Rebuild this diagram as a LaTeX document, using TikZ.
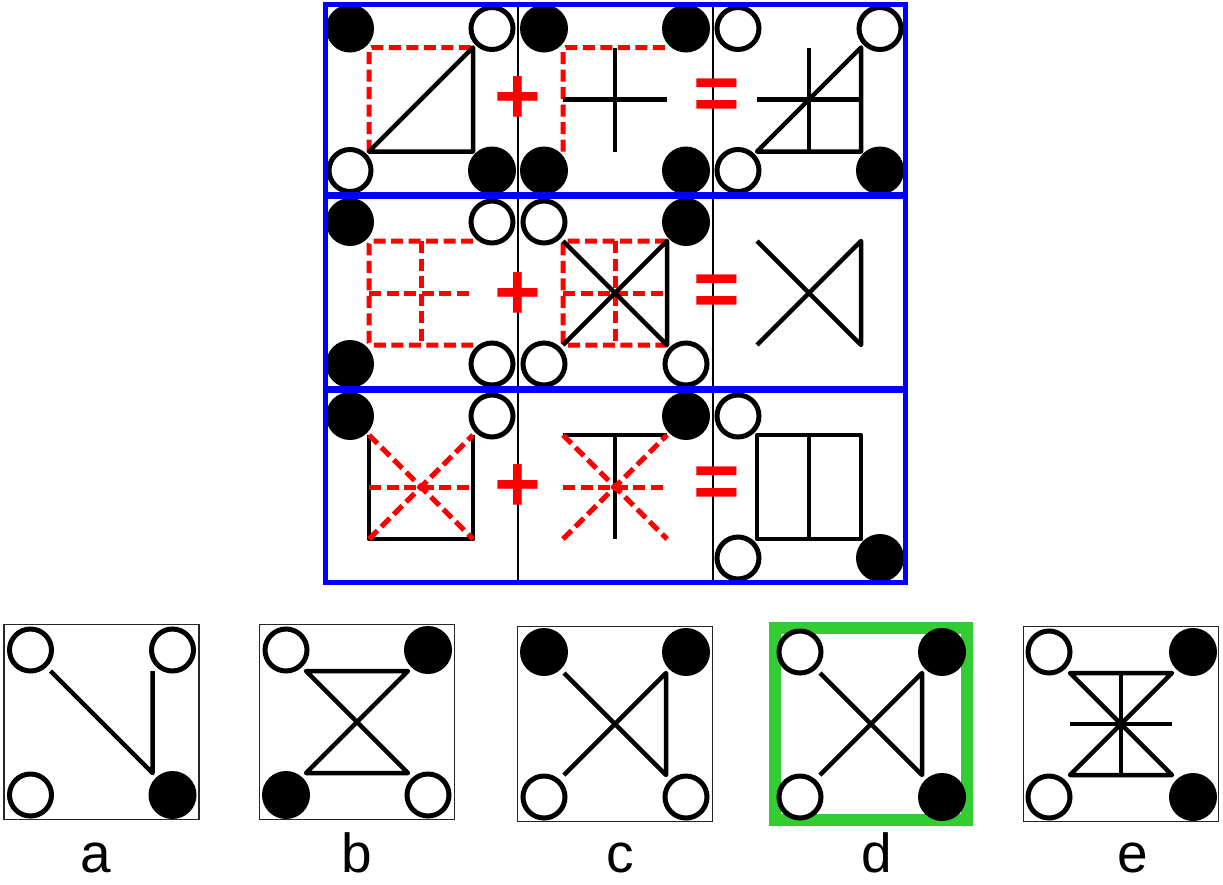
\documentclass[tikz,border=0pt]{standalone}
\usepackage{fontspec}
\setmainfont{Liberation Sans}
\usetikzlibrary{positioning}
\definecolor{frameBlue}{RGB}{0,0,255}
\definecolor{hintRed}{RGB}{255,0,0}
\definecolor{answerGreen}{RGB}{50,205,50}
\tikzset{
  fulldot/.style={circle, fill=black, minimum size=48pt, inner sep=0pt},
  opendot/.style={circle, draw=black, fill=white, line width=5pt, minimum size=42pt, inner sep=0pt},
  inkline/.style={draw=black, line width=4.5pt, line join=round},
  hintline/.style={draw=hintRed, line width=5pt, dash pattern=on 12pt off 5.5pt, rounded corners=3pt},
  rowframe/.style={draw=frameBlue, line width=5pt},
  divider/.style={draw=black, line width=1.5pt},
  choicebox/.style={draw=black!85, line width=1.2pt, minimum size=195pt, inner sep=0pt},
  answerbox/.style={draw=answerGreen, line width=12pt, minimum size=192pt, inner sep=0pt},
  choicelabel/.style={font=\fontsize{55}{60}\selectfont, anchor=base, inner sep=0pt},
  opsign/.style={text=hintRed, font=\fontsize{80}{80}\selectfont\bfseries, inner sep=0pt}
}

\begin{document}
\begin{tikzpicture}[x=1pt, y=-1pt]
  \useasboundingbox (0,0) rectangle (1223,884);

  % cell centres of the puzzle
  \coordinate (r1a) at (421,99.5);
  \coordinate (r1b) at (615,99.5);
  \coordinate (r1c) at (809,99.5);
  \coordinate (r2a) at (421,293);
  \coordinate (r2b) at (615,293);
  \coordinate (r2c) at (809,293);
  \coordinate (r3a) at (421,487);
  \coordinate (r3b) at (615,487);
  \coordinate (r3c) at (809,487);

  % row 1
  \begin{scope}[shift={(r1a)}]
    \draw[hintline] (-52,52) -- (-52,-52) -- (52,-52);
    \draw[inkline] (-52,52) -- (52,-52) -- (52,52) -- cycle;
    \node[fulldot] (r1a-nw) at (-71,-71) {};
    \node[opendot] (r1a-ne) at (71,-71) {};
    \node[opendot] (r1a-sw) at (-71,71) {};
    \node[fulldot] (r1a-se) at (71,71) {};
  \end{scope}
  \begin{scope}[shift={(r1b)}]
    \draw[hintline] (-52,52) -- (-52,-52) -- (52,-52);
    \draw[inkline] (-52,0) -- (52,0);
    \draw[inkline] (0,-52) -- (0,52);
    \node[fulldot] (r1b-nw) at (-71,-71) {};
    \node[fulldot] (r1b-ne) at (71,-71) {};
    \node[fulldot] (r1b-sw) at (-71,71) {};
    \node[fulldot] (r1b-se) at (71,71) {};
  \end{scope}
  \begin{scope}[shift={(r1c)}]
    \draw[inkline] (-52,52) -- (52,-52) -- (52,52) -- cycle;
    \draw[inkline] (-52,0) -- (52,0);
    \draw[inkline] (0,-52) -- (0,52);
    \node[opendot] (r1c-nw) at (-71,-71) {};
    \node[opendot] (r1c-ne) at (71,-71) {};
    \node[opendot] (r1c-sw) at (-71,71) {};
    \node[fulldot] (r1c-se) at (71,71) {};
  \end{scope}

  % row 2
  \begin{scope}[shift={(r2a)}]
    \draw[hintline] (52,-52) -- (-52,-52) -- (-52,52) -- (52,52);
    \draw[hintline] (0,-52) -- (0,52);
    \draw[hintline] (-52,0) -- (52,0);
    \node[fulldot] (r2a-nw) at (-71,-71) {};
    \node[opendot] (r2a-ne) at (71,-71) {};
    \node[fulldot] (r2a-sw) at (-71,71) {};
    \node[opendot] (r2a-se) at (71,71) {};
  \end{scope}
  \begin{scope}[shift={(r2b)}]
    \draw[hintline] (52,-52) -- (-52,-52) -- (-52,52) -- (52,52);
    \draw[hintline] (0,-52) -- (0,52);
    \draw[hintline] (-52,0) -- (52,0);
    \draw[inkline] (-52,-52) -- (52,52) -- (52,-52) -- (-52,52);
    \node[opendot] (r2b-nw) at (-71,-71) {};
    \node[fulldot] (r2b-ne) at (71,-71) {};
    \node[opendot] (r2b-sw) at (-71,71) {};
    \node[opendot] (r2b-se) at (71,71) {};
  \end{scope}
  \begin{scope}[shift={(r2c)}]
    \draw[inkline] (-52,-52) -- (52,52) -- (52,-52) -- (-52,52);
  \end{scope}

  % row 3
  \begin{scope}[shift={(r3a)}]
    \draw[inkline] (-52,-52) -- (-52,52) -- (52,52) -- (52,-52);
    \draw[hintline] (-52,-52) -- (52,52);
    \draw[hintline] (-52,52) -- (52,-52);
    \draw[hintline] (-52,0) -- (52,0);
    \node[fulldot] (r3a-nw) at (-71,-71) {};
    \node[opendot] (r3a-ne) at (71,-71) {};
  \end{scope}
  \begin{scope}[shift={(r3b)}]
    \draw[inkline] (-52,-52) -- (52,-52);
    \draw[inkline] (0,-52) -- (0,52);
    \draw[hintline] (-52,-52) -- (52,52);
    \draw[hintline] (-52,52) -- (52,-52);
    \draw[hintline] (-52,0) -- (52,0);
    \node[fulldot] (r3b-ne) at (71,-71) {};
  \end{scope}
  \begin{scope}[shift={(r3c)}]
    \draw[inkline] (-52,-52) rectangle (52,52);
    \draw[inkline] (0,-52) -- (0,52);
    \node[opendot] (r3c-nw) at (-71,-71) {};
    \node[opendot] (r3c-sw) at (-71,71) {};
    \node[fulldot] (r3c-se) at (71,71) {};
  \end{scope}

  % frames and column rules
  \draw[divider] (518,4) -- (518,582);
  \draw[divider] (713,4) -- (713,582);
  \draw[rowframe] (325,4) rectangle (905,194);
  \draw[rowframe] (325,196) rectangle (905,388);
  \draw[rowframe] (325,390) rectangle (905,582);

  % plus and equals
  \node[opsign] (plus1) at (518,100) {+};
  \node[opsign] (plus2) at (518,296) {+};
  \node[opsign] (plus3) at (518,488) {+};
  \node[opsign] (eq1) at (717,100) {=};
  \node[opsign] (eq2) at (717,296) {=};
  \node[opsign] (eq3) at (717,488) {=};

  % answer choices
  \node[choicebox] (optA) at (101.5,722) {};
  \node[choicebox] (optB) at (357,722) {};
  \node[choicebox] (optC) at (615,724) {};
  \node[answerbox] (optD) at (871,724) {};
  \node[choicebox] (optE) at (1121,724) {};

  \begin{scope}[shift={(optA)}]
    \draw[inkline] (-51,-51) -- (51,51) -- (51,-51);
    \node[opendot] (optA-nw) at (-71,-72) {};
    \node[opendot] (optA-ne) at (71,-72) {};
    \node[opendot] (optA-sw) at (-71,73) {};
    \node[fulldot] (optA-se) at (71,73) {};
  \end{scope}
  \begin{scope}[shift={(optB)}]
    \draw[inkline] (-51,-51) -- (51,-51) -- (-51,51) -- (51,51) -- cycle;
    \node[opendot] (optB-nw) at (-71,-72) {};
    \node[fulldot] (optB-ne) at (71,-72) {};
    \node[fulldot] (optB-sw) at (-71,73) {};
    \node[opendot] (optB-se) at (71,73) {};
  \end{scope}
  \begin{scope}[shift={(optC)}]
    \draw[inkline] (-51,-51) -- (51,51) -- (51,-51) -- (-51,51);
    \node[fulldot] (optC-nw) at (-71,-72) {};
    \node[fulldot] (optC-ne) at (71,-72) {};
    \node[opendot] (optC-sw) at (-71,73) {};
    \node[opendot] (optC-se) at (71,73) {};
  \end{scope}
  \begin{scope}[shift={(optD)}]
    \draw[inkline] (-51,-51) -- (51,51) -- (51,-51) -- (-51,51);
    \node[opendot] (optD-nw) at (-71,-72) {};
    \node[fulldot] (optD-ne) at (71,-72) {};
    \node[opendot] (optD-sw) at (-71,73) {};
    \node[fulldot] (optD-se) at (71,73) {};
  \end{scope}
  \begin{scope}[shift={(optE)}]
    \draw[inkline] (-51,-51) -- (51,-51) -- (-51,51) -- (51,51) -- cycle;
    \draw[inkline] (0,-51) -- (0,51);
    \draw[inkline] (-51,0) -- (51,0);
    \node[opendot] (optE-nw) at (-72,-72) {};
    \node[fulldot] (optE-ne) at (72,-72) {};
    \node[opendot] (optE-sw) at (-72,73) {};
    \node[fulldot] (optE-se) at (72,73) {};
  \end{scope}

  \node[choicelabel] (labA) at (96,872) {a};
  \node[choicelabel] (labB) at (357,872) {b};
  \node[choicelabel] (labC) at (620,872) {c};
  \node[choicelabel] (labD) at (877,872) {d};
  \node[choicelabel] (labE) at (1133,872) {e};
\end{tikzpicture}
\end{document}
